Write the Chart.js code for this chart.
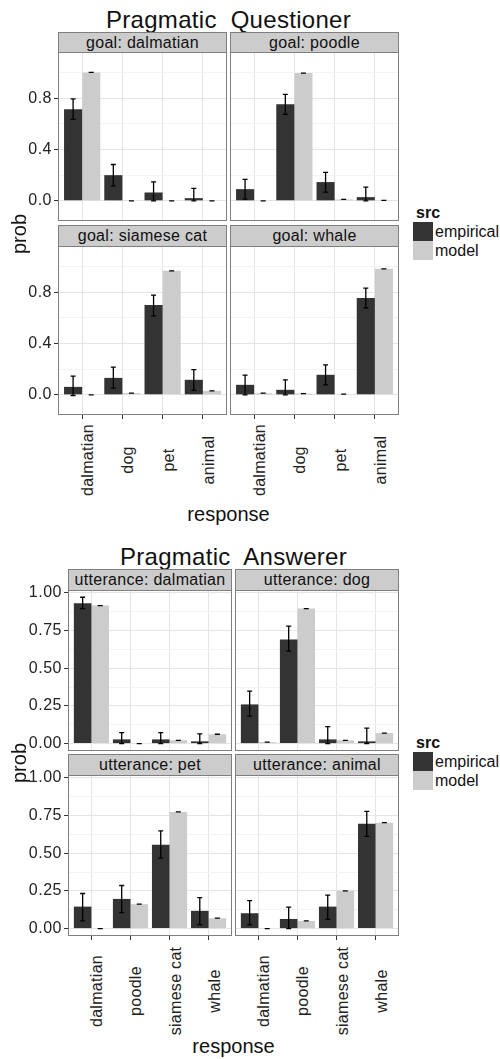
<!DOCTYPE html>
<html>
<head>
<meta charset="utf-8">
<title>Pragmatic Questioner / Pragmatic Answerer</title>
<script src="https://cdn.jsdelivr.net/npm/chart.js@4.4.1/dist/chart.umd.min.js"></script>
<style>
  html, body { margin: 0; padding: 0; background: #fff; }
  #page { position: relative; width: 500px; height: 1059px; overflow: hidden;
          font-family: "Liberation Sans", Arial, Helvetica, sans-serif; color: #111; }
  #page canvas { position: absolute; }
  .txt { position: absolute; white-space: pre; line-height: 1; transform: translate(-50%, -50%); }
  .rot { transform: translate(-50%, -50%) rotate(-90deg); }
  .title { font-size: 24px; letter-spacing: 0.3px; }
  .axis-title { font-size: 20px; }
  .xlab { font-size: 16px; letter-spacing: 0.3px; color: #222; }
  .strip { position: absolute; box-sizing: border-box; background: #cccccc; border: 1px solid #7f7f7f;
           font-size: 16px; letter-spacing: 0.3px; color: #111; line-height: 1;
           display: flex; align-items: center; justify-content: center; white-space: pre; }
  .frame { position: absolute; box-sizing: border-box; border: 1px solid #7f7f7f; pointer-events: none; }
  .key { position: absolute; width: 20px; height: 19px; }
  .leg { position: absolute; font-size: 16px; line-height: 1;
         transform: translateY(-50%); white-space: pre; }
  .leg-title { font-weight: bold; }
</style>
</head>
<body>
<div id="page"></div>
<script>
// fill legend
const srcLabels = ['empirical', 'model'];
const srcColors = ['#333333', '#cccccc'];

// Pragmatic Questioner
const qResponses = ['dalmatian', 'dog', 'pet', 'animal'];
const qPanels = ['goal: dalmatian', 'goal: poodle', 'goal: siamese cat', 'goal: whale'];
const qEmpirical = [
    [0.714, 0.200, 0.065, 0.021],
    [0.091, 0.753, 0.146, 0.029],
    [0.062, 0.132, 0.700, 0.117],
    [0.078, 0.039, 0.156, 0.755]
];
const qEmpiricalLow = [
    [0.634, 0.117, 0.000, 0.000],
    [0.013, 0.673, 0.068, 0.000],
    [-0.005, 0.052, 0.615, 0.034],
    [0.000, 0.000, 0.078, 0.677]
];
const qEmpiricalHigh = [
    [0.794, 0.283, 0.148, 0.097],
    [0.167, 0.829, 0.221, 0.107],
    [0.146, 0.216, 0.776, 0.197],
    [0.153, 0.117, 0.234, 0.831]
];
const qModel = [
    [1.000, 0.000, 0.000, 0.000],
    [0.000, 0.995, 0.011, 0.003],
    [0.000, 0.013, 0.966, 0.031],
    [0.013, 0.010, 0.005, 0.981]
];
const qTicks = [0, 0.4, 0.8];
const qTickLabels = ['0.0', '0.4', '0.8'];
const qMinorTicks = [0.2, 0.6, 1.0];

// Pragmatic Answerer
const aResponses = ['dalmatian', 'poodle', 'siamese cat', 'whale'];
const aPanels = ['utterance: dalmatian', 'utterance: dog', 'utterance: pet', 'utterance: animal'];
const aEmpirical = [
    [0.931, 0.028, 0.028, 0.015],
    [0.260, 0.691, 0.028, 0.015],
    [0.146, 0.197, 0.556, 0.118],
    [0.102, 0.064, 0.146, 0.696]
];
const aEmpiricalLow = [
    [0.896, 0.000, 0.000, 0.000],
    [0.183, 0.613, 0.000, 0.000],
    [0.051, 0.106, 0.468, 0.027],
    [0.025, 0.000, 0.062, 0.612]
];
const aEmpiricalHigh = [
    [0.971, 0.073, 0.073, 0.064],
    [0.348, 0.779, 0.113, 0.103],
    [0.233, 0.286, 0.648, 0.206],
    [0.186, 0.142, 0.222, 0.778]
];
const aModel = [
    [0.916, 0.000, 0.022, 0.062],
    [0.010, 0.896, 0.022, 0.070],
    [0.000, 0.162, 0.774, 0.069],
    [0.000, 0.051, 0.251, 0.703]
];
const aTicks = [0, 0.25, 0.5, 0.75, 1.0];
const aTickLabels = ['0.00', '0.25', '0.50', '0.75', '1.00'];
const aMinorTicks = [0.125, 0.375, 0.625, 0.875];

// page layout of the two facet figures (pixels)
const figures = [
    {
        title: 'Pragmatic  Questioner', titleY: 20,
        cols: [[58, 169], [230, 169]],
        rows: [[32, 52, 169], [225, 246, 169]],   // strip top, body top, body height
        yMin: -0.157, yMax: 1.159,
        xLabelY: 460, xTitleY: 514, legendY: 213,
        responses: qResponses, panels: qPanels,
        emp: qEmpirical, low: qEmpiricalLow, high: qEmpiricalHigh, model: qModel,
        ticks: qTicks, tickLabels: qTickLabels, minorTicks: qMinorTicks
    },
    {
        title: 'Pragmatic  Answerer', titleY: 557,
        cols: [[68, 164], [235, 164]],
        rows: [[569, 590, 161], [754, 775, 161]],
        yMin: -0.049, yMax: 1.019,
        xLabelY: 991, xTitleY: 1046, legendY: 743,
        responses: aResponses, panels: aPanels,
        emp: aEmpirical, low: aEmpiricalLow, high: aEmpiricalHigh, model: aModel,
        ticks: aTicks, tickLabels: aTickLabels, minorTicks: aMinorTicks
    }
];

const page = document.getElementById('page');

function addDiv(cls, text, x, y) {
    const d = document.createElement('div');
    d.className = cls;
    d.textContent = text;
    d.style.left = x + 'px';
    d.style.top = y + 'px';
    page.appendChild(d);
    return d;
}

// error bars from the low/high arrays of each dataset
const errorBars = {
    id: 'errorBars',
    afterDatasetsDraw(chart) {
        const ctx = chart.ctx;
        const yScale = chart.scales.y;
        ctx.save();
        ctx.strokeStyle = '#000';
        ctx.lineWidth = 1.3;
        chart.data.datasets.forEach((ds, di) => {
            chart.getDatasetMeta(di).data.forEach((bar, i) => {
                const top = yScale.getPixelForValue(ds.high[i]);
                const bot = yScale.getPixelForValue(ds.low[i]);
                const x = bar.x;
                ctx.beginPath();
                ctx.moveTo(x - 2.5, top); ctx.lineTo(x + 2.5, top);
                ctx.moveTo(x, top); ctx.lineTo(x, bot);
                ctx.moveTo(x - 2.5, bot); ctx.lineTo(x + 2.5, bot);
                ctx.stroke();
            });
        });
        ctx.restore();
    }
};

// a bit of tracking on the tick labels, like the original figure
const tickSpacing = {
    id: 'tickSpacing',
    beforeDraw(chart) {
        chart.ctx.letterSpacing = '0.5px';
    }
};

function drawPanel(fig, p, col, row) {
    const bx = fig.cols[col][0], bw = fig.cols[col][1];
    const stripTop = fig.rows[row][0], by = fig.rows[row][1], bh = fig.rows[row][2];
    const showY = col === 0;
    const showX = row === 1;
    const left = showY ? 0 : bx;
    const axisW = bx - left;
    const extraH = showX ? 5 : 0;
    const topPad = showY ? 10 : 0;   // room for the top tick label

    const canvas = document.createElement('canvas');
    canvas.width = bw + axisW;
    canvas.height = bh + extraH + topPad;
    canvas.style.left = left + 'px';
    canvas.style.top = (by - topPad) + 'px';
    canvas.style.width = canvas.width + 'px';
    canvas.style.height = canvas.height + 'px';
    page.appendChild(canvas);

    const yTicks = fig.ticks.map((v, i) => ({ value: v, lbl: fig.tickLabels[i], minor: false }))
        .concat(fig.minorTicks.map(v => ({ value: v, lbl: '', minor: true })))
        .sort((a, b) => a.value - b.value);

    const chart = new Chart(canvas, {
        type: 'bar',
        data: {
            datasets: srcLabels.map((name, s) => ({
                label: name,
                data: fig.responses.map((r, i) => ({ x: i + 1, y: (s === 0 ? fig.emp : fig.model)[p][i] })),
                low: s === 0 ? fig.low[p] : fig.model[p],
                high: s === 0 ? fig.high[p] : fig.model[p],
                backgroundColor: srcColors[s],
                borderWidth: 0,
                categoryPercentage: 0.9,
                barPercentage: 1.0
            }))
        },
        options: {
            responsive: false,
            animation: false,
            devicePixelRatio: 1,
            layout: { padding: { top: topPad, left: 0, right: 0, bottom: 0 }, autoPadding: false },
            events: [],
            plugins: { legend: { display: false }, tooltip: { enabled: false } },
            scales: {
                x: {
                    type: 'linear',
                    min: 0.4,
                    max: fig.responses.length + 0.6,
                    offset: false,
                    afterBuildTicks: s => { s.ticks = fig.responses.map((r, i) => ({ value: i + 1 })); },
                    ticks: { display: false },
                    grid: { offset: false, color: '#e5e5e5', lineWidth: 1, drawTicks: showX, tickLength: 4, tickColor: '#333' },
                    border: { display: false },
                    afterFit: s => { s.height = extraH; s.paddingLeft = 0; s.paddingRight = 0; }
                },
                y: {
                    min: fig.yMin,
                    max: fig.yMax,
                    afterBuildTicks: s => { s.ticks = yTicks.map(t => ({ value: t.value, lbl: t.lbl, minor: t.minor })); },
                    ticks: {
                        display: showY,
                        autoSkip: false,
                        padding: 2,
                        color: '#222',
                        font: { family: '"Liberation Sans", Arial, sans-serif', size: 16 },
                        callback: (v, i, ticks) => ticks[i].lbl
                    },
                    grid: {
                        color: c => (c.tick && c.tick.minor ? '#f3f3f3' : '#e5e5e5'),
                        lineWidth: 1,
                        drawTicks: showY,
                        tickLength: 4,
                        tickColor: c => (c.tick && c.tick.minor ? 'rgba(0,0,0,0)' : '#333')
                    },
                    border: { display: false },
                    afterFit: s => { s.width = axisW; s.paddingTop = 0; s.paddingBottom = 0; }
                }
            }
        },
        plugins: [errorBars, tickSpacing]
    });

    // facet strip and panel border
    const strip = addDiv('strip', fig.panels[p], bx, stripTop);
    strip.style.width = bw + 'px';
    strip.style.height = (by - stripTop + 1) + 'px';
    const frame = addDiv('frame', '', bx, by);
    frame.style.width = bw + 'px';
    frame.style.height = bh + 'px';

    // response labels under the bottom row, centred in the label band
    if (showX) {
        fig.responses.forEach((r, i) => {
            const px = left + chart.scales.x.getPixelForValue(i + 1);
            addDiv('txt rot xlab', r, px + 6, fig.xLabelY);
        });
    }
}

figures.forEach(fig => {
    const x0 = fig.cols[0][0];
    const x1 = fig.cols[1][0] + fig.cols[1][1];
    const mid = (x0 + x1) / 2;
    addDiv('txt title', fig.title, mid, fig.titleY);

    fig.panels.forEach((name, p) => drawPanel(fig, p, p % 2, Math.floor(p / 2)));

    const bodyTop = fig.rows[0][1];
    const bodyBottom = fig.rows[1][1] + fig.rows[1][2];
    addDiv('txt rot axis-title', 'prob', 18.5, (bodyTop + bodyBottom) / 2);
    addDiv('txt axis-title', 'response', mid, fig.xTitleY);

    // legend
    addDiv('leg leg-title', 'src', 416, fig.legendY);
    srcLabels.forEach((name, s) => {
        const key = addDiv('key', '', 413, fig.legendY + 9 + s * 19);
        key.style.background = srcColors[s];
        addDiv('leg', name, 435, fig.legendY + 18.5 + s * 19);
    });
});
</script>
</body>
</html>
